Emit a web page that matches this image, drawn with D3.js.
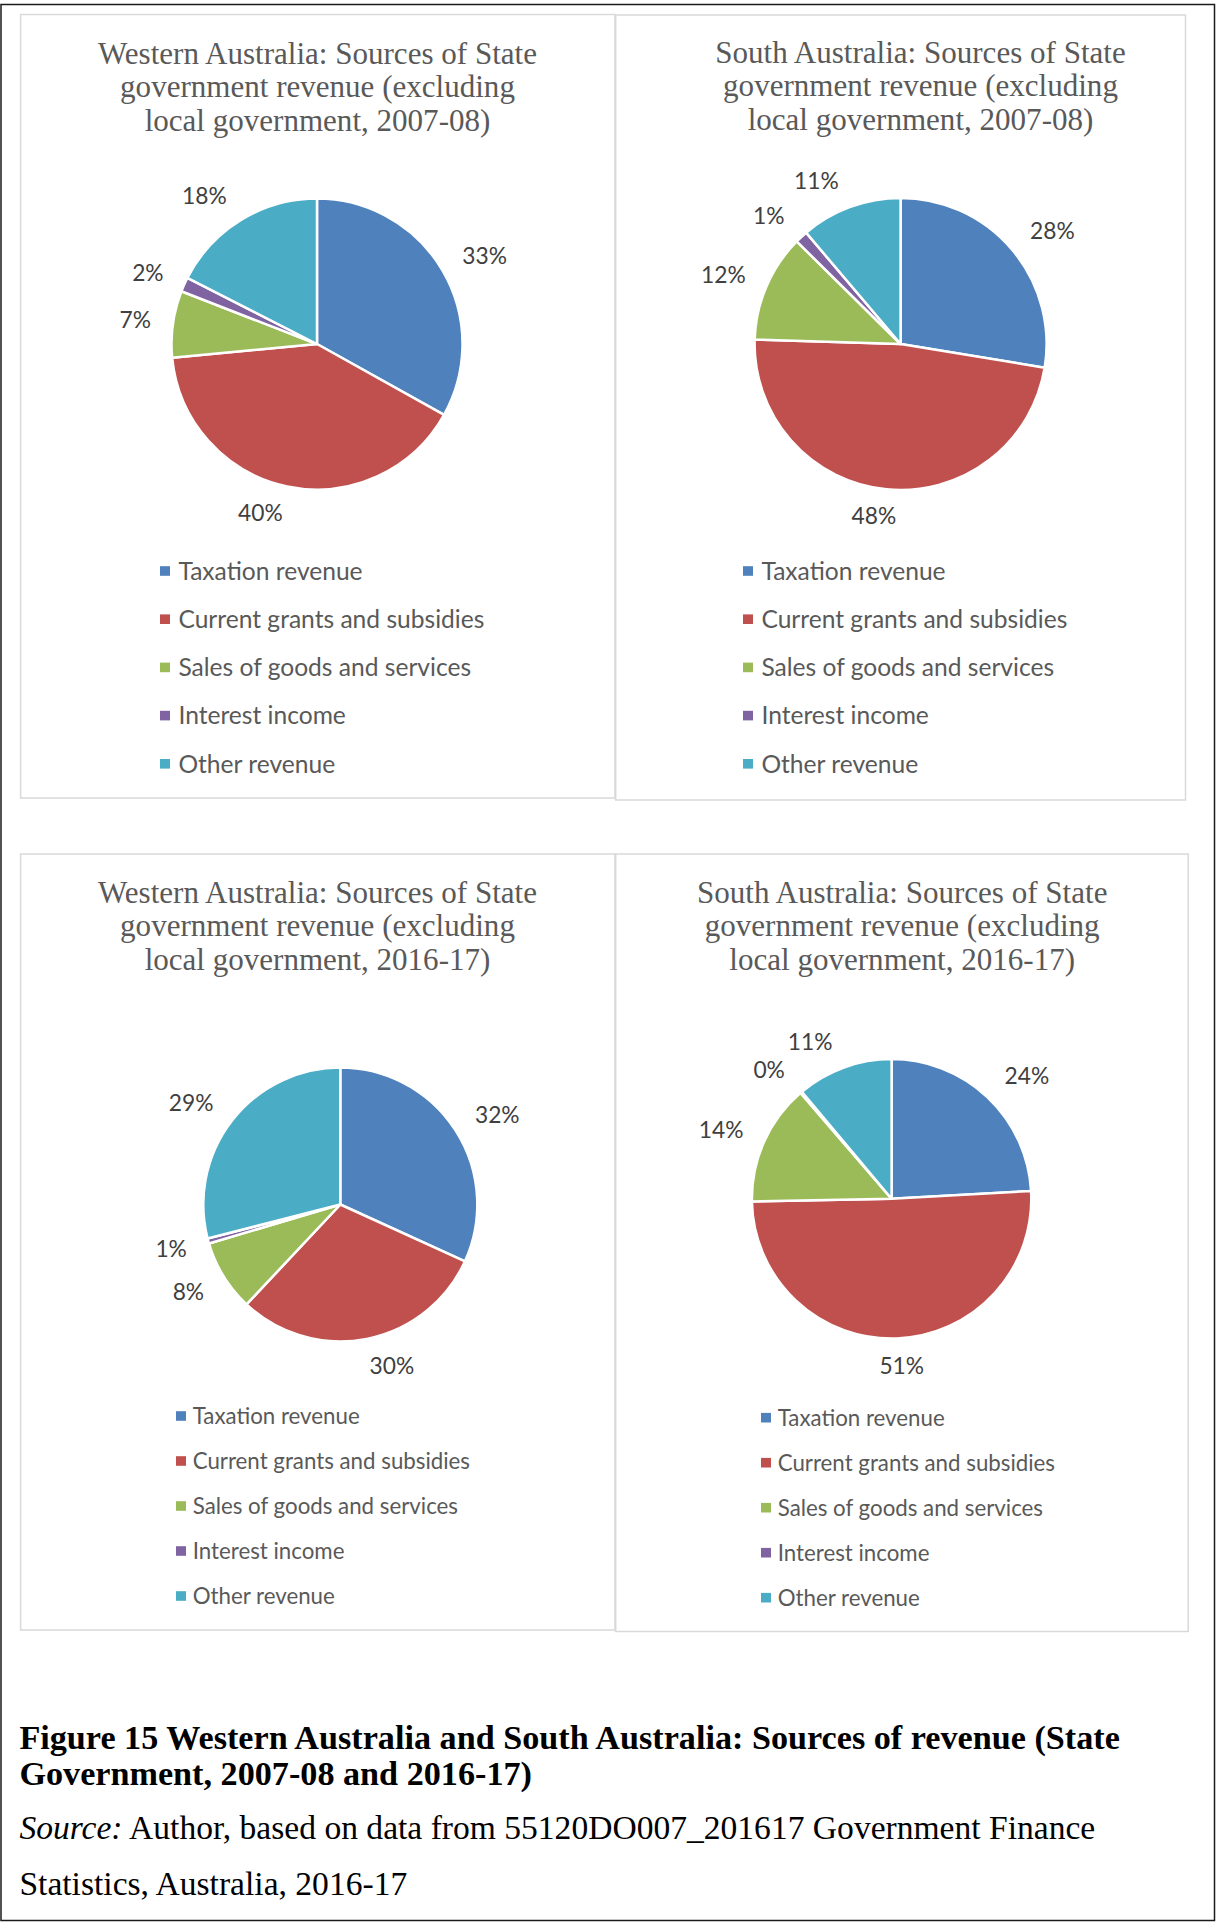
<!DOCTYPE html>
<html>
<head>
<meta charset="utf-8">
<script src="https://cdn.jsdelivr.net/npm/d3@7"></script>
<style>
  body { margin: 0; background: #fff; }
  svg { display: block; }
</style>
</head>
<body>
<script>
// Revenue categories, in slice order (clockwise from 12 o'clock)
const categories = [
  "Taxation revenue",
  "Current grants and subsidies",
  "Sales of goods and services",
  "Interest income",
  "Other revenue"
];
const sliceColors = ["#4F81BD", "#C0504D", "#9BBB59", "#8064A2", "#4BACC6"];

// Share of State government revenue (%), by category
const waShares0708 = [33.1, 40.4, 7.4, 1.6, 17.5];
const saShares0708 = [27.6, 47.9, 11.9, 1.4, 11.2];
const waShares1617 = [31.8, 30.2, 8.4, 0.6, 29.0];
const saShares1617 = [24.1, 50.6, 14.0, 0.2, 11.1];

const chartTitles = [
  ["Western Australia: Sources of State", "government revenue (excluding", "local government, 2007-08)"],
  ["South Australia: Sources of State", "government revenue (excluding", "local government, 2007-08)"],
  ["Western Australia: Sources of State", "government revenue (excluding", "local government, 2016-17)"],
  ["South Australia: Sources of State", "government revenue (excluding", "local government, 2016-17)"]
];

const figureCaption = [
  "Figure 15 Western Australia and South Australia: Sources of revenue (State",
  "Government, 2007-08 and 2016-17)"
];
const sourceLabel = "Source:";
const sourceLines = [
  " Author, based on data from 55120DO007_201617 Government Finance",
  "Statistics, Australia, 2016-17"
];

const W = 1216, H = 1922;
const SERIF = "'Liberation Serif', 'Times New Roman', serif";
const SANS = "Lato, 'Open Sans', 'Noto Sans', sans-serif";

const svg = d3.select("body").append("svg")
  .attr("width", W).attr("height", H)
  .attr("viewBox", `0 0 ${W} ${H}`);

svg.append("rect").attr("width", W).attr("height", H).attr("fill", "#fff");

// pick a font size that makes a sample string a given width
function sizeForWidth(family, weight, style, sample, targetWidth) {
  const t = svg.append("text")
    .attr("font-family", family).attr("font-weight", weight)
    .attr("font-style", style).attr("font-size", 100).text(sample);
  const w = t.node().getComputedTextLength();
  t.remove();
  return 100 * targetWidth / w;
}

const titleSize = sizeForWidth(SERIF, "normal", "normal", chartTitles[0][0], 439);
const labelSize = sizeForWidth(SANS, "normal", "normal", "33%", 44.7);
const legendSizeTop = sizeForWidth(SANS, "normal", "normal", categories[1], 306);
const legendSizeBottom = sizeForWidth(SANS, "normal", "normal", categories[1], 277.5);
const captionSize = sizeForWidth(SERIF, "bold", "normal", figureCaption[0], 1101);
const sourceSize = sizeForWidth(SERIF, "normal", "normal", sourceLines[1], 388);

// panel frames and pie placement
const panels = [
  { x: 20.6, y: 14.5, w: 594.4, h: 783.5, cx: 317, cy: 344, r: 145.5,
    titleX: 317.5, titleY: 63.6, legendX: 160, legendY: 571, legendStep: 48.2,
    legendSize: legendSizeTop, shares: waShares0708 },
  { x: 615.7, y: 15, w: 569.8, h: 785, cx: 900.6, cy: 344, r: 146,
    titleX: 920.5, titleY: 62.5, legendX: 743, legendY: 571, legendStep: 48.2,
    legendSize: legendSizeTop, shares: saShares0708 },
  { x: 20.6, y: 854, w: 594.4, h: 776, cx: 340.3, cy: 1204.5, r: 137,
    titleX: 317.5, titleY: 902.5, legendX: 176, legendY: 1416, legendStep: 45,
    legendSize: legendSizeBottom, shares: waShares1617 },
  { x: 615.7, y: 854, w: 572.5, h: 777.5, cx: 891.6, cy: 1198.8, r: 139.7,
    titleX: 902.2, titleY: 902.5, legendX: 761, legendY: 1417.7, legendStep: 45,
    legendSize: legendSizeBottom, shares: saShares1617 }
];

const pie = d3.pie().sort(null).value(d => d.value);
const color = d3.scaleOrdinal().domain(categories).range(sliceColors);
const clamp1 = v => Math.max(-1, Math.min(1, v));

panels.forEach((p, pi) => {
  const g = svg.append("g");

  g.append("rect")
    .attr("x", p.x).attr("y", p.y).attr("width", p.w).attr("height", p.h)
    .attr("fill", "#fff").attr("stroke", "#d9d9d9").attr("stroke-width", 1.5);

  // chart title
  const title = g.append("text")
    .attr("font-family", SERIF).attr("font-size", titleSize)
    .attr("fill", "#595959").attr("text-anchor", "middle");
  chartTitles[pi].forEach((line, li) => {
    title.append("tspan").attr("x", p.titleX).attr("y", p.titleY + li * 33.5).text(line);
  });

  // slices
  const rows = categories.map((c, i) => ({ category: c, value: p.shares[i] }));
  const total = d3.sum(rows, d => d.value);
  const arcs = pie(rows);
  const arc = d3.arc().innerRadius(0).outerRadius(p.r);
  const pieG = g.append("g").attr("transform", `translate(${p.cx},${p.cy})`);

  pieG.selectAll("path").data(arcs).join("path")
    .attr("d", arc)
    .attr("fill", d => color(d.data.category))
    .attr("stroke", "#fff").attr("stroke-width", 2.5).attr("stroke-linejoin", "round");

  // percentage labels outside each slice; the label box sits beyond the rim
  // and is pushed sideways/vertically by half its size toward the outside
  pieG.selectAll("text.pct").data(arcs).join("text")
    .attr("class", "pct")
    .attr("font-family", SANS).attr("font-size", labelSize)
    .attr("fill", "#404040").attr("text-anchor", "middle").attr("dy", "0.36em")
    .text(d => Math.round(d.data.value / total * 100) + "%")
    .each(function (d) {
      const a = (d.startAngle + d.endAngle) / 2;
      const ux = Math.sin(a), uy = -Math.cos(a);
      const tw = this.getComputedTextLength();
      const rr = p.r + 16;
      const x = ux * rr + clamp1(4 * ux) * (tw / 2 + 6);
      const y = uy * rr + clamp1(1.2 * uy) * 11;
      d3.select(this).attr("x", x).attr("y", y);
    });

  // legend
  const legend = g.append("g");
  const gap = p.legendSize * 0.75;
  categories.forEach((c, i) => {
    const y = p.legendY + i * p.legendStep;
    legend.append("rect")
      .attr("x", p.legendX).attr("y", y - 4.8).attr("width", 10).attr("height", 9.6)
      .attr("fill", color(c));
    legend.append("text")
      .attr("x", p.legendX + gap).attr("y", y).attr("dy", "0.36em")
      .attr("font-family", SANS).attr("font-size", p.legendSize)
      .attr("fill", "#595959").text(c);
  });
});

// figure caption and source note
const cap = svg.append("text")
  .attr("font-family", SERIF).attr("font-weight", "bold")
  .attr("font-size", captionSize).attr("fill", "#000");
figureCaption.forEach((line, i) => {
  cap.append("tspan").attr("x", 19.4).attr("y", 1749 + i * 36).text(line);
});

const src1 = svg.append("text")
  .attr("x", 19.4).attr("y", 1839)
  .attr("font-family", SERIF).attr("font-size", sourceSize).attr("fill", "#000");
src1.append("tspan").attr("font-style", "italic").text(sourceLabel);
src1.append("tspan").text(sourceLines[0]);

svg.append("text")
  .attr("x", 19.4).attr("y", 1895)
  .attr("font-family", SERIF).attr("font-size", sourceSize).attr("fill", "#000")
  .text(sourceLines[1]);

// outer page frame
svg.append("rect")
  .attr("x", 1).attr("y", 4.5).attr("width", 1213.5).attr("height", 1916)
  .attr("fill", "none").attr("stroke", "#1a1a1a").attr("stroke-width", 1.5);
</script>
</body>
</html>
